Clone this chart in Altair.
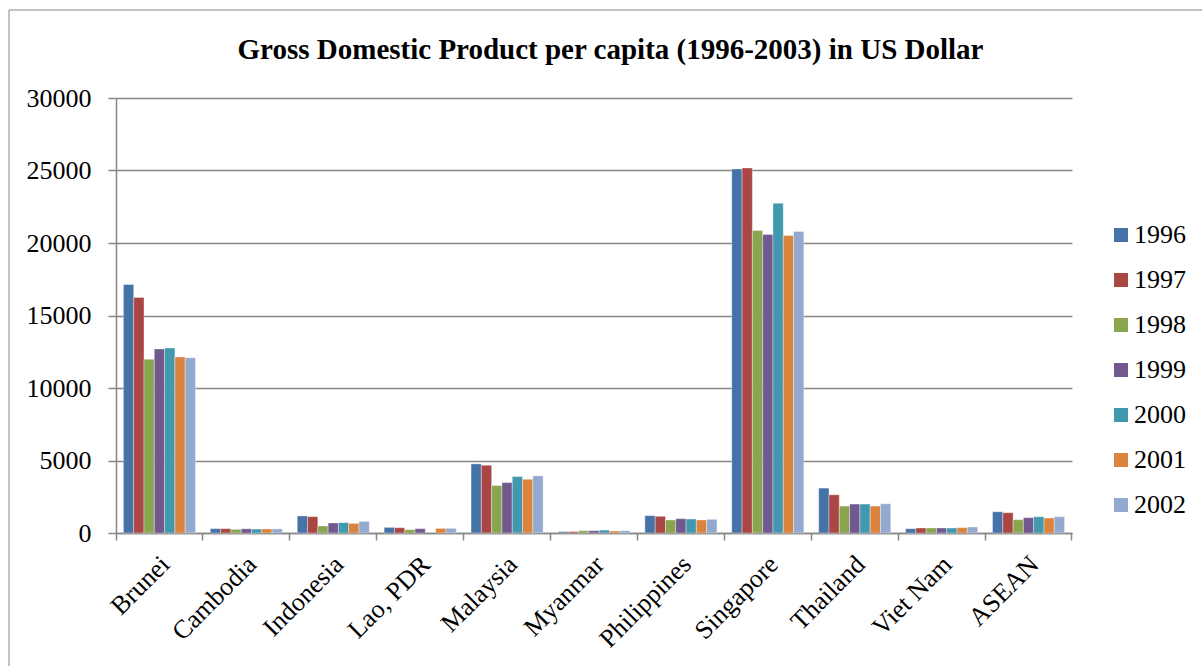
import altair as alt
import pandas as pd

countries = ["Brunei", "Cambodia", "Indonesia", "Lao, PDR", "Malaysia", "Myanmar",
             "Philippines", "Singapore", "Thailand", "Viet Nam", "ASEAN"]
years = ["1996", "1997", "1998", "1999", "2000", "2001", "2002"]
colors = ["#4572A7", "#AA4643", "#89A54E", "#71588F", "#4198AF", "#DB843D", "#93A9CF"]

gdp_1996 = [17140, 300, 1175, 387, 4768, 90, 1196, 25107, 3095, 296, 1466]
gdp_1997 = [16240, 300, 1127, 364, 4672, 90, 1150, 25176, 2636, 344, 1398]
gdp_1998 = [11980, 250, 484, 228, 3270, 160, 898, 20862, 1858, 344, 917]
gdp_1999 = [12690, 290, 691, 297, 3477, 160, 988, 20586, 1996, 344, 1055]
gdp_2000 = [12760, 270, 714, None, 3892, 200, 965, 22743, 1996, 344, 1123]
gdp_2001 = [12140, 280, 663, 320, 3706, 140, 898, 20517, 1858, 370, 1032]
gdp_2002 = [12090, 280, 800, 320, 3939, 160, 942, 20793, 2017, 413, 1123]

title_text = "Gross Domestic Product per capita (1996-2003) in US Dollar"

series = [gdp_1996, gdp_1997, gdp_1998, gdp_1999, gdp_2000, gdp_2001, gdp_2002]
rows = []
for yr, vals in zip(years, series):
    for c, v in zip(countries, vals):
        if v is not None:
            rows.append({"Country": c, "Year": yr, "GDP": v})
df = pd.DataFrame(rows)

FONT = "Liberation Serif"
GRAY = "#868686"
W, H = 956, 435

deco = pd.DataFrame({"t": [title_text]})

frame = alt.Chart(deco).mark_rect(
    filled=False, stroke=GRAY, strokeWidth=1
).encode(
    x=alt.value(-107), x2=alt.value(1300),
    y=alt.value(-88), y2=alt.value(800)
)

title = alt.Chart(deco).mark_text(
    font=FONT, fontSize=29, fontWeight="bold", color="black",
    align="center", baseline="alphabetic"
).encode(
    x=alt.value(494.5), y=alt.value(-39), text="t:N"
)

bars = alt.Chart(df).mark_bar(stroke="white", strokeWidth=0.6, strokeOpacity=0.6).encode(
    x=alt.X("Country:N", sort=countries,
            scale=alt.Scale(paddingInner=0, paddingOuter=0),
            axis=alt.Axis(title=None, labelAngle=-45, labelAlign="right",
                          labelBaseline="middle", labelFont=FONT, labelFontSize=26,
                          labelColor="black", labelPadding=20, labelOffset=6,
                          domainColor=GRAY, domainWidth=1.5,
                          tickColor=GRAY, tickWidth=1.5, tickSize=7,
                          bandPosition=1, tickExtra=True, grid=False)),
    xOffset=alt.XOffset("Year:N", sort=years,
                        scale=alt.Scale(paddingInner=0, paddingOuter=0.72)),
    y=alt.Y("GDP:Q", scale=alt.Scale(domain=[0, 30000], nice=False),
            axis=alt.Axis(title=None, values=[0, 5000, 10000, 15000, 20000, 25000, 30000],
                          format="d", labelFont=FONT, labelFontSize=26, labelColor="black",
                          labelPadding=17, domainColor=GRAY, domainWidth=1.5,
                          tickColor=GRAY, tickWidth=1.5, tickSize=8,
                          grid=True, gridColor=GRAY, gridWidth=1.5)),
    color=alt.Color("Year:N", sort=years,
                    scale=alt.Scale(domain=years, range=colors),
                    legend=alt.Legend(title=None, orient="none", legendX=992, legendY=124,
                                      direction="vertical", symbolType="square",
                                      symbolSize=196, symbolStrokeWidth=0,
                                      labelFont=FONT, labelFontSize=26, labelColor="black",
                                      labelOffset=0, rowPadding=19, padding=0))
)

chart = alt.layer(frame, bars, title).properties(
    width=W, height=H,
    autosize=alt.AutoSizeParams(type="none"),
    padding={"left": 116, "top": 98, "right": 130, "bottom": 133},
    background="white"
).configure_view(stroke=None)

chart.save("out.html", embed_options={"renderer": "svg", "actions": False})
